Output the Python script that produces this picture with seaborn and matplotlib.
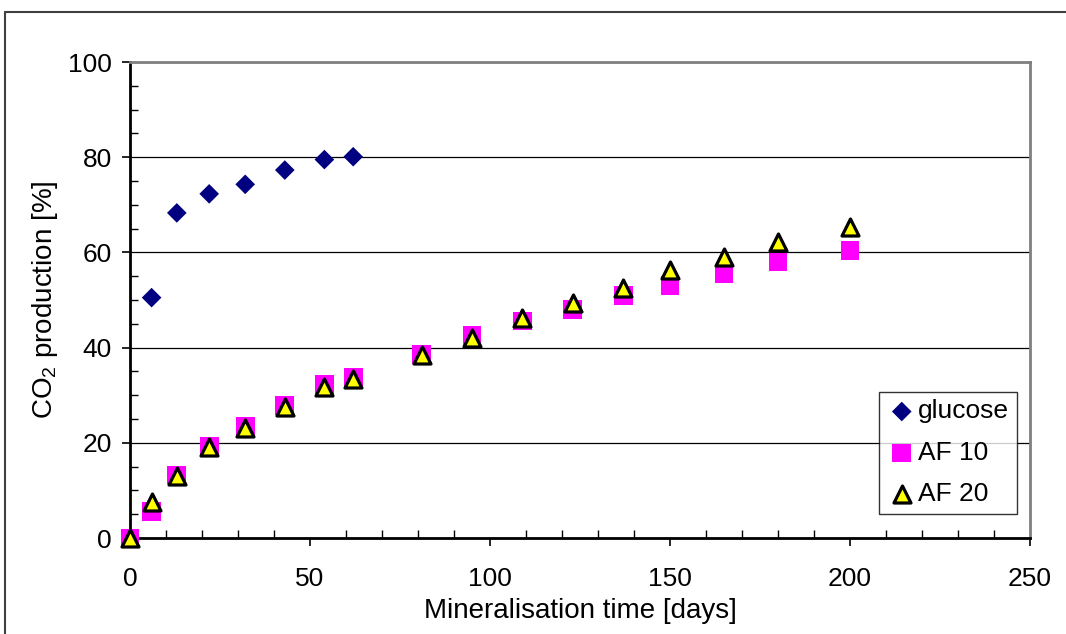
import matplotlib
matplotlib.use('Agg')
import matplotlib.pyplot as plt
import seaborn as sns
from matplotlib.ticker import MultipleLocator
from matplotlib.lines import Line2D

# days of sampling
glucose_days = [6, 13, 22, 32, 43, 54, 62]
glucose_co2 = [50.5, 68.3, 72.3, 74.3, 77.3, 79.5, 80.1]

af_days = [0, 6, 13, 22, 32, 43, 54, 62, 81, 95, 109, 123, 137, 150, 165, 180, 200]
af10_co2 = [0, 5.6, 13.2, 19.3, 23.4, 27.9, 32.2, 33.7, 38.6, 42.6, 45.6, 48.0, 51.0, 53.0, 55.5, 58.0, 60.4]
af20_co2 = [0, 7.6, 13.0, 19.1, 23.2, 27.6, 31.8, 33.4, 38.4, 42.1, 46.2, 49.3, 52.5, 56.3, 59.0, 62.1, 65.4]

sns.set_style('white')
plt.rcParams['font.family'] = ['Liberation Sans', 'DejaVu Sans']
plt.rcParams['mathtext.default'] = 'regular'
plt.rcParams['text.color'] = 'black'
plt.rcParams['axes.labelcolor'] = 'black'
plt.rcParams['xtick.color'] = 'black'
plt.rcParams['ytick.color'] = 'black'

fig = plt.figure(figsize=(10.66, 6.34), dpi=100)
ax = fig.add_axes([130 / 1066, 1 - 538 / 634, 900 / 1066, 476 / 634])

sns.scatterplot(x=glucose_days, y=glucose_co2, ax=ax, marker='D', s=100,
                color='#000080', edgecolor='none', label='glucose', zorder=3, clip_on=False)
sns.scatterplot(x=af_days, y=af10_co2, ax=ax, marker='s', s=180,
                color='#FF00FF', edgecolor='none', label='AF 10', zorder=3, clip_on=False)
sns.scatterplot(x=af_days, y=af20_co2, ax=ax, marker='^', s=150,
                color='#FFFF00', edgecolor='black', linewidth=2.3, label='AF 20', zorder=4,
                clip_on=False)

ax.set_xlim(0, 250)
ax.set_ylim(0, 100)
ax.xaxis.set_major_locator(MultipleLocator(50))
ax.xaxis.set_minor_locator(MultipleLocator(10))
ax.yaxis.set_major_locator(MultipleLocator(20))
ax.yaxis.set_minor_locator(MultipleLocator(5))

ax.tick_params(which='major', direction='out', length=6, width=1.2, labelsize=19,
               bottom=True, left=True)
ax.tick_params(axis='x', which='major', pad=15)
ax.tick_params(axis='y', which='major', pad=7)
ax.tick_params(which='minor', direction='in', length=6, width=1.0,
               bottom=True, left=True)

ax.grid(axis='y', which='major', color='black', linewidth=0.9)
ax.set_axisbelow(True)

for side in ['left', 'bottom']:
    ax.spines[side].set_color('black')
    ax.spines[side].set_linewidth(2)
for side in ['top', 'right']:
    ax.spines[side].set_color('#808080')
    ax.spines[side].set_linewidth(2)

ax.set_xlabel('Mineralisation time [days]', fontsize=20, labelpad=5)
ax.set_ylabel('CO$_2$ production [%]', fontsize=20, labelpad=6)

leg = ax.legend(loc='lower right', bbox_to_anchor=(0.985, 0.05), fontsize=19, frameon=True,
                fancybox=False, edgecolor='black', handletextpad=0.05, borderpad=0.3,
                labelspacing=0.66, handlelength=1.1, borderaxespad=0)
leg.get_frame().set_linewidth(1)

# outer chart border
fig.add_artist(Line2D([5 / 1066, 5 / 1066], [0, 1 - 12 / 634], transform=fig.transFigure,
                      color='#404040', linewidth=1.5))
fig.add_artist(Line2D([5 / 1066, 1], [1 - 12 / 634, 1 - 12 / 634], transform=fig.transFigure,
                      color='#404040', linewidth=1.5))

plt.savefig('out.png', dpi=100)
